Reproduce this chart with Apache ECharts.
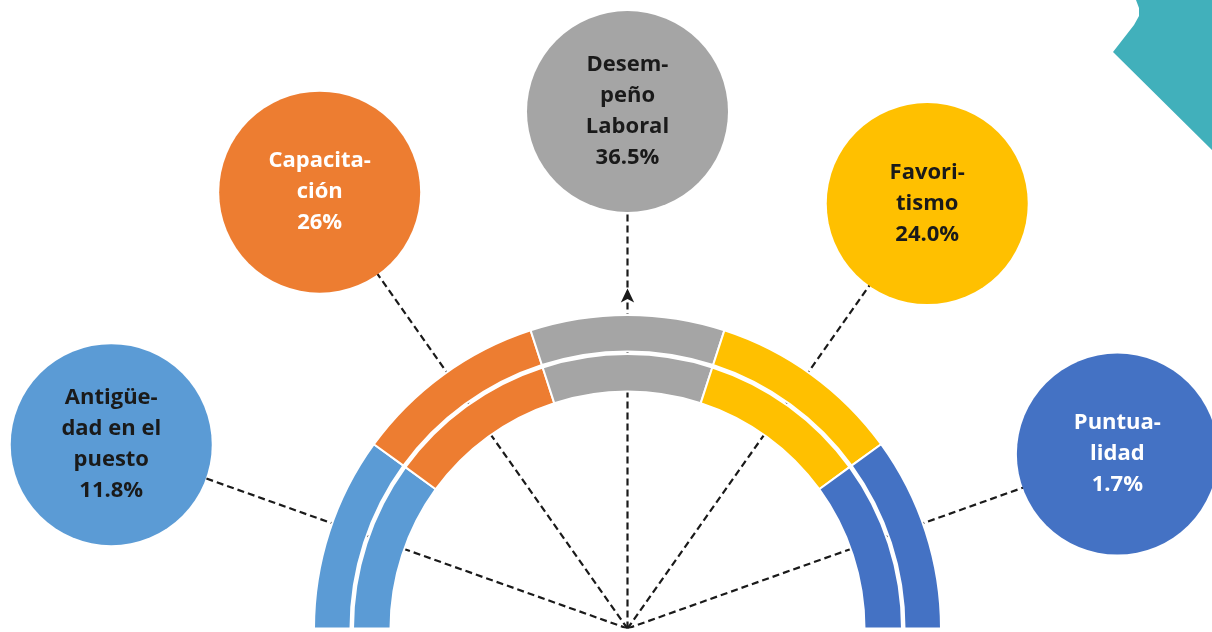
<!DOCTYPE html>
<html>
<head>
<meta charset="utf-8">
<title>Factores</title>
<script src="https://cdn.jsdelivr.net/npm/echarts@6/dist/echarts.min.js"></script>
<style>
  html, body { margin: 0; padding: 0; background: #fff; }
  #container { width: 1212px; height: 632px; }
</style>
</head>
<body>
<div id="container"></div>
<script>
// categorias y valores
const categorias = ['Antigüedad en el puesto', 'Capacitación', 'Desempeño Laboral', 'Favoritismo', 'Puntualidad']
const etiquetas = ['Antigüe-\ndad en el\npuesto', 'Capacita-\nción', 'Desem-\npeño\nLaboral', 'Favori-\ntismo', 'Puntua-\nlidad']
const porcentajes = [11.8, 26, 36.5, 24.0, 1.7]
const textoPorcentaje = ['11.8%', '26%', '36.5%', '24.0%', '1.7%']
// el arco se reparte en partes iguales
const segmentos = [1, 1, 1, 1, 1]

// estilos / layout
const colores = ['#5B9BD5', '#ED7D31', '#A5A5A5', '#FFC000', '#4472C4']
const colorTexto = ['#1a1a1a', '#ffffff', '#1a1a1a', '#1a1a1a', '#ffffff']
const distancia = [548, 534, 517, 520, 520]
const centro = [627.5, 628.5]
const fuente = '"Open Sans", "Liberation Sans", sans-serif'

const anillo = (radio) => ({
  type: 'pie',
  center: centro,
  radius: radio,
  startAngle: 180,
  endAngle: 0,
  clockwise: true,
  silent: true,
  z: 3,
  label: { show: false },
  labelLine: { show: false },
  itemStyle: { borderColor: '#fff', borderWidth: 2 },
  data: categorias.map((c, i) => ({ name: c, value: segmentos[i], itemStyle: { color: colores[i] } }))
})

// lineas punteadas desde el centro hasta cada burbuja
const lineas = categorias.map((c, i) => ({
  type: 'line',
  coordinateSystem: 'polar',
  symbol: 'none',
  silent: true,
  z: 1,
  lineStyle: { color: '#1a1a1a', width: 2.2, type: [7, 4] },
  data: [[0, i], [distancia[i], i]]
}))

const option = {
  animation: false,
  backgroundColor: '#fff',
  graphic: [
    {
      type: 'polygon',
      z: 0,
      shape: { points: [[1136, 0], [1139, 8], [1139, 16], [1134, 25], [1113, 52], [1212, 150], [1212, 0]] },
      style: { fill: '#41B0BB' }
    }
  ],
  polar: { center: centro, radius: 600 },
  angleAxis: {
    type: 'category',
    data: categorias,
    startAngle: 178,
    endAngle: 2,
    clockwise: true,
    show: false
  },
  radiusAxis: { type: 'value', min: 0, max: 600, show: false },
  series: [
    ...lineas,
    anillo([277, 313.5]),
    anillo([237, 274.5]),
    {
      // punta de flecha en la linea central
      type: 'scatter',
      coordinateSystem: 'polar',
      silent: true,
      z: 4,
      symbol: 'arrow',
      symbolSize: [10, 14],
      itemStyle: { color: '#1a1a1a', opacity: 1 },
      data: [[340, 2]]
    },
    {
      type: 'scatter',
      coordinateSystem: 'polar',
      silent: true,
      z: 5,
      symbol: 'circle',
      symbolSize: 201,
      itemStyle: { opacity: 1 },
      label: {
        show: true,
        position: 'inside',
        fontFamily: fuente,
        fontWeight: 'bold',
        fontSize: 22,
        lineHeight: 31,
        align: 'center',
        formatter: (p) => etiquetas[p.dataIndex] + '\n' + textoPorcentaje[p.dataIndex]
      },
      data: categorias.map((c, i) => ({
        name: c,
        value: [distancia[i], i],
        pct: porcentajes[i],
        itemStyle: { color: colores[i] },
        label: { color: colorTexto[i] }
      }))
    }
  ]
}

const myChart = echarts.init(document.getElementById('container'))
myChart.setOption(option)
window.addEventListener('resize', () => {
  myChart.resize()
})
</script>
</body>
</html>
